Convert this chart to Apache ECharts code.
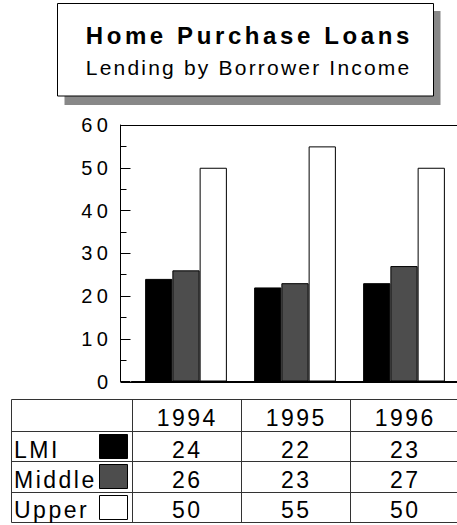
<!DOCTYPE html>
<html>
<head>
<meta charset="utf-8">
<script src="https://cdn.jsdelivr.net/npm/echarts@6/dist/echarts.min.js"></script>
<style>
html, body { margin: 0; padding: 0; background: #fff; }
#main { width: 457px; height: 525px; }
#main text[style*="bold"] { letter-spacing: 3.6px; }
#main text[style*="21px"] { letter-spacing: 2.2px; }
#main text[style*="20px"] { letter-spacing: 4.5px; }
#main text[style*="23px"]:not([style*="bold"]) { letter-spacing: 2.5px; }
</style>
</head>
<body>
<div id="main"></div>
<script>
// ---- data ----
const titleText = 'Home Purchase Loans';
const subtitleText = 'Lending by Borrower Income';
const categories = ['1994', '1995', '1996'];
const seriesNames = ['LMI', 'Middle', 'Upper'];
const lmiValues = [24, 22, 23];
const middleValues = [26, 23, 27];
const upperValues = [50, 55, 50];
const yMin = 0;
const yMax = 60;
const yStep = 10;

// ---- styling ----
const FONT = "'Liberation Sans', Arial, Helvetica, sans-serif";
const seriesColors = ['#000000', '#4d4d4d', '#ffffff'];
const seriesValues = [lmiValues, middleValues, upperValues];

const chart = echarts.init(document.getElementById('main'), null, { renderer: 'svg' });

const option = {
  animation: false,
  backgroundColor: '#ffffff',
  grid: { left: 131.5, width: 327, top: 125, height: 256.5, containLabel: false, outerBoundsMode: 'none' },
  xAxis: {
    type: 'category',
    data: categories,
    boundaryGap: true,
    axisLine: { show: true, lineStyle: { color: '#000', width: 1 } },
    axisTick: { show: false },
    axisLabel: { show: false },
    splitLine: { show: false }
  },
  yAxis: {
    type: 'value',
    min: yMin,
    max: yMax,
    interval: yStep,
    offset: 11,
    axisLine: { show: true, lineStyle: { color: '#000', width: 1 } },
    axisTick: { show: true, inside: true, length: 10, lineStyle: { color: '#000' } },
    minorTick: { show: true, splitNumber: 2, length: 6, lineStyle: { color: '#000' } },
    splitLine: { show: false },
    axisLabel: { margin: 8, fontSize: 20, fontFamily: FONT, color: '#000', padding: [4, 0, 0, 0] }
  },
  series: seriesNames.map((name, i) => ({
    name: name,
    type: 'bar',
    data: seriesValues[i],
    barGap: '0%',
    barCategoryGap: '25%',
    itemStyle: { color: seriesColors[i], borderColor: '#000', borderWidth: 1 }
  }))
};

chart.setOption(option);

// ---- title box & data table (graphic) ----
const cx = categories.map(c => chart.convertToPixel({ xAxisIndex: 0 }, c));
const band = cx[1] - cx[0];
const colEdges = [cx[0] - band / 2].concat(cx.map(x => x + band / 2));
const tableLeft = 11.5;
const tableRight = 457;
const rowLines = [399.5, 431.5, 461.5, 492.5, 522.5];
const headerCenterY = 418;
const rowCenterY = [449.5, 479.5, 509.5];
const tableFont = 23;
const tableSpacing = 2.5;

const g = [];
// title shadow & box
g.push({ type: 'rect', z: 10, shape: { x: 64.5, y: 11, width: 376, height: 94 }, style: { fill: '#888888', stroke: null } });
g.push({ type: 'rect', z: 11, shape: { x: 57.5, y: 3.5, width: 376, height: 92.5 }, style: { fill: '#ffffff', stroke: '#000', lineWidth: 1 } });
g.push({ type: 'text', z: 12, x: 247.5 + 1.8, y: 35.5, style: { text: titleText, fontSize: 24, fontWeight: 'bold', fontFamily: FONT, fill: '#000', align: 'center', verticalAlign: 'middle', textAlign: 'center', textVerticalAlign: 'middle' } });
g.push({ type: 'text', z: 12, x: 247.5 + 1.1, y: 67.5, style: { text: subtitleText, fontSize: 21, fontFamily: FONT, fill: '#000', align: 'center', verticalAlign: 'middle', textAlign: 'center', textVerticalAlign: 'middle' } });

// plot frame top line and axis extension
const yTop = chart.convertToPixel({ yAxisIndex: 0 }, yMax);
const yBottom = chart.convertToPixel({ yAxisIndex: 0 }, yMin);
g.push({ type: 'line', z: 5, shape: { x1: 120.5, y1: Math.round(yTop) + 0.5, x2: 457, y2: Math.round(yTop) + 0.5 }, style: { stroke: '#000', lineWidth: 1 } });
g.push({ type: 'line', z: 5, shape: { x1: 120.5, y1: Math.round(yBottom) + 0.5, x2: 457, y2: Math.round(yBottom) + 0.5 }, style: { stroke: '#000', lineWidth: 1 } });

// table grid lines
rowLines.forEach(y => g.push({ type: 'line', z: 5, shape: { x1: tableLeft, y1: y, x2: tableRight, y2: y }, style: { stroke: '#333', lineWidth: 1 } }));
[tableLeft].concat(colEdges.slice(0, 3).map(x => Math.round(x) + 0.5)).forEach(x => g.push({ type: 'line', z: 5, shape: { x1: x, y1: rowLines[0], x2: x, y2: rowLines[rowLines.length - 1] }, style: { stroke: '#333', lineWidth: 1 } }));

// header years
categories.forEach((c, j) => g.push({ type: 'text', z: 6, x: cx[j] + tableSpacing / 2, y: headerCenterY, style: { text: c, fontSize: tableFont, fontFamily: FONT, fill: '#000', align: 'center', verticalAlign: 'middle', textAlign: 'center', textVerticalAlign: 'middle' } }));

// rows
seriesNames.forEach((name, i) => {
  g.push({ type: 'text', z: 6, x: 14, y: rowCenterY[i], style: { text: name, fontSize: tableFont, fontFamily: FONT, fill: '#000', align: 'left', verticalAlign: 'middle', textAlign: 'left', textVerticalAlign: 'middle' } });
  g.push({ type: 'rect', z: 6, shape: { x: 99.5, y: rowLines[i + 1] + 3, width: 28, height: 24 }, style: { fill: seriesColors[i], stroke: '#000', lineWidth: 1 } });
  seriesValues[i].forEach((v, j) => g.push({ type: 'text', z: 6, x: cx[j] + tableSpacing / 2, y: rowCenterY[i], style: { text: String(v), fontSize: tableFont, fontFamily: FONT, fill: '#000', align: 'center', verticalAlign: 'middle', textAlign: 'center', textVerticalAlign: 'middle' } }));
});

chart.setOption({ graphic: { elements: g } });
</script>
</body>
</html>
